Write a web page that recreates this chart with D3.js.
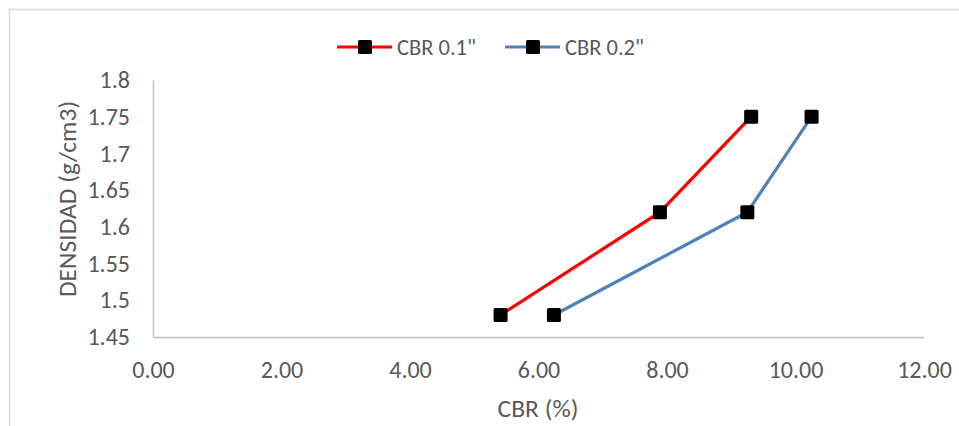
<!DOCTYPE html>
<html>
<head>
<meta charset="utf-8">
<script src="https://cdn.jsdelivr.net/npm/d3@7"></script>
<style>
  body { margin: 0; background: #fff; }
  text { font-family: Carlito, "Open Sans", "Liberation Sans", sans-serif; fill: #595959; }
</style>
</head>
<body>
<div class="chart"></div>
<script>

// values
var seriesNames = ['CBR 0.1"', 'CBR 0.2"'];
var seriesColors = ["#ff0000", "#4f81bd"];
var cbr01 = [5.41, 7.89, 9.31];
var cbr02 = [6.24, 9.25, 10.25];
var density = [1.48, 1.62, 1.75];
var xTicks = [0, 2, 4, 6, 8, 10, 12];
var yTicks = [1.45, 1.5, 1.55, 1.6, 1.65, 1.7, 1.75, 1.8];

var W = 959, H = 426;
var margin = {top: 80, right: 35, bottom: 89, left: 153},
  width = W - margin.left - margin.right,
  height = H - margin.top - margin.bottom;

var root = d3.select(".chart")
  .append("svg")
    .attr("width", W)
    .attr("height", H);

// outer chart frame (cut off at right and bottom)
root.append("rect")
  .attr("x", 9.5).attr("y", 9.5)
  .attr("width", W + 20).attr("height", H + 20)
  .style("fill", "none")
  .style("stroke", "#d9d9d9")
  .style("stroke-width", 1.5);

var svg = root.append("g")
  .attr("transform", "translate(" + margin.left + "," + margin.top + ")");

var x = d3.scaleLinear().domain([0, 12]).range([0, width]);
var y = d3.scaleLinear().domain([1.45, 1.8]).range([height, 0]);

// axes
var xAxis = svg.append("g")
  .attr("transform", "translate(0," + height + ")")
  .call(d3.axisBottom(x).tickValues(xTicks).tickSize(0).tickPadding(23)
    .tickFormat(d3.format(".2f")));

var yAxis = svg.append("g")
  .call(d3.axisLeft(y).tickValues(yTicks).tickSize(0).tickPadding(23)
    .tickFormat(function(d) { return String(+d.toFixed(2)); }));

[xAxis, yAxis].forEach(function(a) {
  a.select(".domain").style("stroke", "#bfbfbf").style("stroke-width", 1.5);
  a.selectAll("text").style("font-size", "24px").style("fill", "#595959")
    .style("font-family", 'Carlito, "Open Sans", "Liberation Sans", sans-serif');
});
xAxis.selectAll("text").attr("dy", "0.36em").attr("y", 32);

// axis titles
root.append("text")
  .attr("x", 538)
  .attr("y", 408)
  .attr("dy", "0.35em")
  .attr("text-anchor", "middle")
  .style("font-size", "25.5px")
  .text("CBR (%)");

root.append("text")
  .attr("transform", "translate(67,199) rotate(-90)")
  .attr("dy", "0.35em")
  .attr("text-anchor", "middle")
  .style("font-size", "25.5px")
  .text("DENSIDAD (g/cm3)");

// series
var data = [cbr01, cbr02].map(function(vals, i) {
  return {
    name: seriesNames[i],
    color: seriesColors[i],
    points: vals.map(function(v, j) { return {x: v, y: density[j]}; })
  };
});

var line = d3.line()
  .x(function(d) { return x(d.x); })
  .y(function(d) { return y(d.y); });

var ms = 14;

data.forEach(function(s) {
  svg.append("path")
    .datum(s.points)
    .attr("d", line)
    .style("fill", "none")
    .style("stroke", s.color)
    .style("stroke-width", 3.2);

  svg.selectAll(null)
    .data(s.points)
    .enter()
    .append("rect")
    .attr("x", function(d) { return x(d.x) - ms / 2; })
    .attr("y", function(d) { return y(d.y) - ms / 2; })
    .attr("width", ms)
    .attr("height", ms)
    .attr("rx", 1.5)
    .style("fill", "#000");
});

// legend
var legendX = [337, 505];
var legend = root.append("g");
data.forEach(function(s, i) {
  var g = legend.append("g").attr("transform", "translate(" + legendX[i] + ",47)");
  g.append("line")
    .attr("x1", 0).attr("x2", 55)
    .style("stroke", s.color)
    .style("stroke-width", 3.2);
  g.append("rect")
    .attr("x", 28 - ms / 2).attr("y", -ms / 2)
    .attr("width", ms).attr("height", ms)
    .attr("rx", 1.5)
    .style("fill", "#000");
  g.append("text")
    .attr("x", 60)
    .attr("dy", "0.35em")
    .style("font-size", "22.5px")
    .text(s.name);
});

</script>
</body>
</html>
